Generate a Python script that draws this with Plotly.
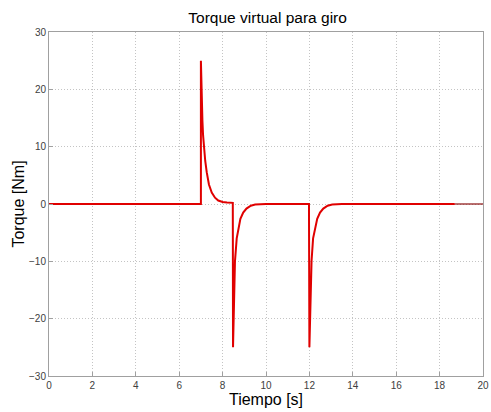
import plotly.graph_objects as go

# Main torque series (time in s, torque in Nm)
tiempo = [0.0, 7.0, 7.0, 7.03, 7.07, 7.1, 7.14, 7.2, 7.27, 7.37, 7.5, 7.65, 7.8, 8.0, 8.2, 8.47,
          8.48, 8.52, 8.57, 8.65, 8.72, 8.82, 8.95, 9.1, 9.3, 9.5, 10.0,
          11.98, 12.0, 12.04, 12.1, 12.17, 12.26, 12.36, 12.49, 12.64, 12.84, 13.05, 13.5, 18.7]
torque = [0.0, 0.0, 25.0, 19.0, 14.5, 12.0, 9.8, 7.5, 5.5, 3.4, 2.0, 1.1, 0.6, 0.35, 0.25, 0.2,
          -25.0, -17.0, -10.0, -6.0, -4.4, -2.6, -1.5, -0.8, -0.3, -0.1, 0.0,
          0.0, -25.0, -17.0, -9.9, -6.0, -4.4, -2.6, -1.5, -0.8, -0.3, -0.1, 0.0, 0.0]

# Tail segment drawn in a darker tone at the end of the record
tiempo_cola = [18.7, 20.0]
torque_cola = [0.0, 0.0]

x_ticks = [0, 2, 4, 6, 8, 10, 12, 14, 16, 18, 20]
y_ticks = [-30, -20, -10, 0, 10, 20, 30]

FONT = "Liberation Sans, Arial"

fig = go.Figure()
fig.add_trace(go.Scatter(x=tiempo_cola, y=torque_cola, mode="lines",
                         line=dict(color="#8a1010", width=1.2), showlegend=False))
fig.add_trace(go.Scatter(x=tiempo, y=torque, mode="lines",
                         line=dict(color="#e00000", width=2), showlegend=False))

axis_common = dict(
    showgrid=True, gridcolor="#c4c4c4", griddash="1px,2px", gridwidth=1,
    showline=True, linecolor="#a0a0a0", linewidth=1, mirror=True,
    ticks="inside", ticklen=4, tickcolor="#a0a0a0",
    tickfont=dict(family=FONT, size=10, color="#404040"),
    zeroline=False,
)

fig.update_layout(
    width=491, height=412,
    margin=dict(l=49, r=8, t=32, b=36, autoexpand=False),
    paper_bgcolor="white", plot_bgcolor="white",
    title=dict(text="Torque virtual para giro", x=0.545, xanchor="center", y=0.958, yanchor="middle",
               font=dict(family=FONT, size=15.5, color="black")),
    xaxis=dict(range=[0, 20], tickvals=x_ticks,
               title=dict(text="Tiempo [s]", standoff=2,
                          font=dict(family=FONT, size=16, color="black")),
               **axis_common),
    yaxis=dict(range=[-30, 30], tickvals=y_ticks,
               title=dict(text="Torque [Nm]", standoff=0,
                          font=dict(family=FONT, size=16, color="black")),
               **axis_common),
)

fig.write_html("out.html", config={"displayModeBar": False},
               post_script="document.body.style.margin='0';document.body.style.padding='0';")
